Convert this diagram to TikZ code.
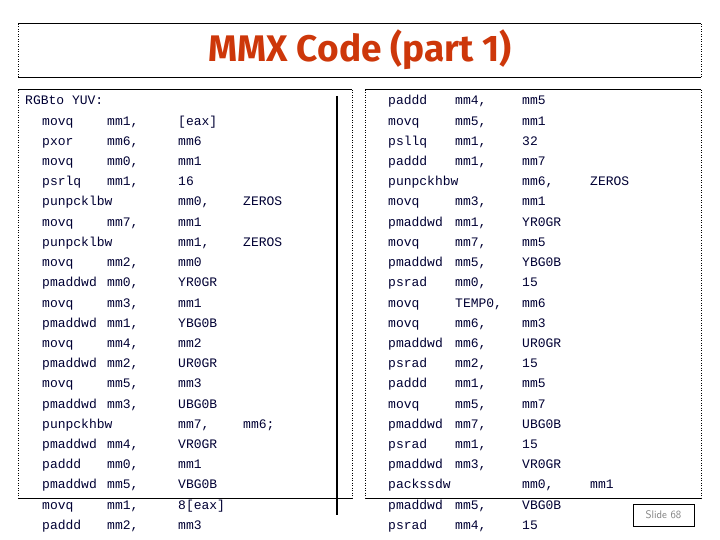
\documentclass[tikz,border=0pt]{standalone}
\usepackage{fontspec}
\setmonofont{Liberation Mono}
\newfontfamily\titlefont{Fira Sans}
\begin{document}
\begin{tikzpicture}[x=1pt,y=-1pt,
  code/.style={anchor=base west,inner sep=0pt,text=black!80!blue,font=\ttfamily\fontsize{13}{13}\selectfont},
  solidedge/.style={line width=1pt},
  dotedge/.style={dotted,line width=0.5pt}]
\useasboundingbox (0,0) rectangle (720,540);
% title box
\draw[solidedge] (18,24) -- (701,24) (18,78) -- (701,78);
\draw[dotedge] (18,24) -- (18,78) (701,24) -- (701,78);
\node[font=\titlefont\bfseries\fontsize{37}{37}\selectfont,text={rgb,255:red,205;green,55;blue,10}] (title) at (360,50) {MMX Code (part 1)};
% left box
\draw[solidedge] (18,90) -- (352,90) (18,498) -- (352,498);
\draw[dotedge] (18,90) -- (18,498) (352,90) -- (352,498);
% right box
\draw[solidedge] (365,90) -- (701,90) (365,498) -- (701,498);
\draw[dotedge] (365,90) -- (365,498) (701,90) -- (701,498);
% separator
\draw[line width=1.2pt] (337,96) coordinate (s1) -- (337,515) coordinate (s2);
% slide number
\node[draw,line width=0.4pt,minimum width=61pt,minimum height=22pt,font=\sffamily\fontsize{11}{11}\selectfont,text=gray] (slide) at (663.5,515) {Slide 68};
\node[code] (hdr) at (25,105) {RGBto YUV:};
\foreach [count=\i] \a/\b/\c/\d in {
 {movq/mm1,/[eax]/},
 {pxor/mm6,/mm6/},
 {movq/mm0,/mm1/},
 {psrlq/mm1,/16/},
 {punpcklbw//mm0,/ZEROS},
 {movq/mm7,/mm1/},
 {punpcklbw//mm1,/ZEROS},
 {movq/mm2,/mm0/},
 {pmaddwd/mm0,/YR0GR/},
 {movq/mm3,/mm1/},
 {pmaddwd/mm1,/YBG0B/},
 {movq/mm4,/mm2/},
 {pmaddwd/mm2,/UR0GR/},
 {movq/mm5,/mm3/},
 {pmaddwd/mm3,/UBG0B/},
 {punpckhbw//mm7,/mm6;},
 {pmaddwd/mm4,/VR0GR/},
 {paddd/mm0,/mm1/},
 {pmaddwd/mm5,/VBG0B/},
 {movq/mm1,/8[eax]/},
 {paddd/mm2,/mm3/}}{
  \pgfmathsetmacro\yy{105+20.2*\i}
  \node[code] (la\i) at (42,\yy) {\a};
  \node[code] (lb\i) at (107,\yy) {\b};
  \node[code] (lc\i) at (178,\yy) {\c};
  \node[code] (ld\i) at (243,\yy) {\d};
}
\foreach [count=\i from 0] \a/\b/\c/\d in {
 {paddd/mm4,/mm5/},
 {movq/mm5,/mm1/},
 {psllq/mm1,/32/},
 {paddd/mm1,/mm7/},
 {punpckhbw//mm6,/ZEROS},
 {movq/mm3,/mm1/},
 {pmaddwd/mm1,/YR0GR/},
 {movq/mm7,/mm5/},
 {pmaddwd/mm5,/YBG0B/},
 {psrad/mm0,/15/},
 {movq/TEMP0,/mm6/},
 {movq/mm6,/mm3/},
 {pmaddwd/mm6,/UR0GR/},
 {psrad/mm2,/15/},
 {paddd/mm1,/mm5/},
 {movq/mm5,/mm7/},
 {pmaddwd/mm7,/UBG0B/},
 {psrad/mm1,/15/},
 {pmaddwd/mm3,/VR0GR/},
 {packssdw//mm0,/mm1},
 {pmaddwd/mm5,/VBG0B/},
 {psrad/mm4,/15/}}{
  \pgfmathsetmacro\yy{105+20.2*\i}
  \node[code] (ra\i) at (388,\yy) {\a};
  \node[code] (rb\i) at (455,\yy) {\b};
  \node[code] (rc\i) at (522,\yy) {\c};
  \node[code] (rd\i) at (590,\yy) {\d};
}
\end{tikzpicture}
\end{document}
